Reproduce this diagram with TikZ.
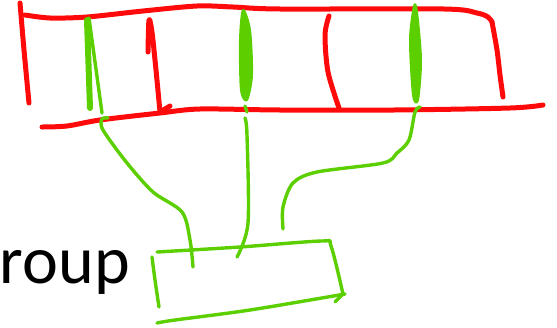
\documentclass[tikz,border=0pt]{standalone}
\usepackage{fontspec}
\setmainfont{Carlito}
\usetikzlibrary{positioning}
\definecolor{penred}{HTML}{FF0A0A}
\definecolor{pengreen}{HTML}{5CCF00}
\tikzset{
  redpen/.style={draw=penred, line width=5pt, line cap=round, line join=round},
  greenpen/.style={draw=pengreen, line width=3.4pt, line cap=round, line join=round},
  greenblob/.style={fill=pengreen, draw=pengreen, line width=2pt, line join=round},
  grouplabel/.style={font=\fontsize{68}{72}\selectfont, text=black, inner sep=0pt},
}
\begin{document}
\begin{tikzpicture}[x=1pt, y=-1pt]
\useasboundingbox (0,0) rectangle (557,327);

% -----------------------------------------------------------------------------
% red frame: top and bottom strokes with dividers
% -----------------------------------------------------------------------------
\draw[redpen] plot[smooth] coordinates {(20,3) (24,50) (29,103)};
\draw[redpen] plot[smooth] coordinates {(25,15) (50,18) (87,17) (143,11) (197,6) (233,7) (280,9) (444,9) (477,13) (488,17) (492,22)};
\draw[redpen] plot[smooth] coordinates {(492,22) (497,50) (500,75) (503,97)};
\draw[redpen] plot[smooth] coordinates {(42,127) (67,126) (100,120) (160,113) (200,109) (280,110) (394,110) (510,108) (543,105)};

% dividers
\draw[redpen] plot[smooth] coordinates {(148,52) (149,20) (152,32) (156,70) (160,112)} -- (170,106);
\draw[redpen] plot[smooth] coordinates {(329,16) (325,35) (328,72) (339,108)};

% -----------------------------------------------------------------------------
% green marks inside the frame
% -----------------------------------------------------------------------------
\draw[greenpen, line width=6pt] (87,20) -- (90,108);
\draw[greenpen] (89,18) -- (102,113);
\fill[greenblob] plot[smooth cycle] coordinates {(243,10) (240,40) (241,90) (247,100) (252,75) (250,30)};
\fill[greenblob] plot[smooth cycle] coordinates {(414,6) (410,40) (413,95) (418,100) (421,60) (417,12)};

% -----------------------------------------------------------------------------
% green links down to the box
% -----------------------------------------------------------------------------
\draw[greenpen] plot[smooth] coordinates {(108,118) (102,119) (103,130) (127,163) (153,192) (182,212) (190,240) (193,267)};
\draw[greenpen] (245,106) -- (247,112);
\draw[greenpen] plot[smooth] coordinates {(245,118) (247,135) (248,223) (237,257)};
\draw[greenpen] plot[smooth] coordinates {(420,107) (415,112) (409,140) (397,153) (383,163) (317,172) (293,183) (283,207) (283,229)};

% box
\draw[greenpen] plot[smooth] coordinates {(157,252) (240,247) (322,241) (331,246) (343,294)} -- (335,302);
\draw[greenpen] plot[smooth] coordinates {(152,257) (155,280) (159,307)};
\draw[greenpen] plot[smooth] coordinates {(157,323) (175,320) (250,310) (345,294)};

% label
\node[grouplabel, anchor=base east] (label) at (130,283) {roup};

\end{tikzpicture}
\end{document}
